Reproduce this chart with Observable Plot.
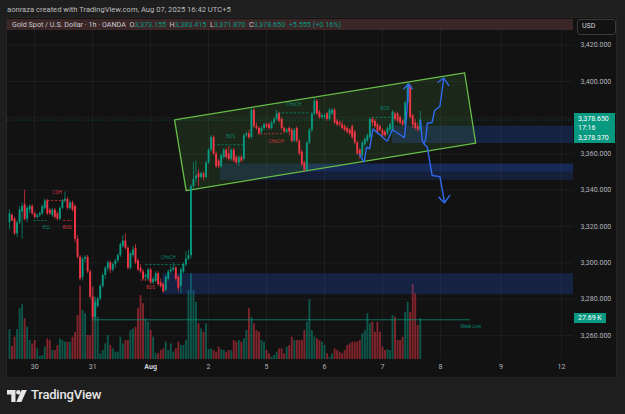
<!DOCTYPE html>
<html><head><meta charset="utf-8">
<script src="https://cdn.jsdelivr.net/npm/d3@7"></script>
<script src="https://cdn.jsdelivr.net/npm/@observablehq/plot@0.6"></script>
<style>
html,body{margin:0;padding:0;background:#1e1e1e;}
#root{position:relative;width:625px;height:414px;overflow:hidden;background:#1e1e1e;font-family:Roboto,"Open Sans",sans-serif;}
.abs{position:absolute;}
#root svg.layer{position:absolute;left:0;top:0;}
.g{color:#089981;}
</style></head><body>
<div id="root">
  <div class="abs" style="left:7px;top:5px;font-size:7.6px;color:#bdbdbd;white-space:nowrap;">aonraza created with TradingView.com, Aug 07, 2025 16:42 UTC+5</div>
  <div class="abs" style="left:6px;top:17px;width:611px;height:361px;background:#121212;border:1px solid #262626;box-sizing:border-box;"></div>
  <div class="abs" style="left:7px;top:19px;width:566px;height:11px;background:#3a2527;"></div>
  <div class="abs" style="left:577px;top:19px;width:39px;height:16px;border:1px solid #3a3a3a;border-radius:3px;box-sizing:border-box;"></div>
  <div class="abs" style="left:582px;top:22px;font-size:7px;color:#d1d4dc;">USD</div>
  <div id="layers"></div>
  <div class="abs" style="left:12px;top:20px;font-size:7.2px;line-height:10px;color:#c8cad0;white-space:nowrap;">Gold Spot / U.S. Dollar · 1h · OANDA&nbsp; O<span class="g">3,373.155</span>&nbsp; H<span class="g">3,383.415</span>&nbsp; L<span class="g">3,371.870</span>&nbsp; C<span class="g">3,378.650</span>&nbsp; <span class="g">+5.555 (+0.16%)</span></div>
  <div class="abs" style="left:574px;top:113px;width:41px;height:30px;background:#089981;"></div>
  <div class="abs" style="left:578px;top:115px;font-size:7px;line-height:9.4px;color:#fff;">3,378.650<br>17:16<br>3,378.370</div>
  <div class="abs" style="left:574px;top:313px;width:32px;height:10px;background:#089981;"></div>
  <div class="abs" style="left:578px;top:314px;font-size:7px;line-height:8px;color:#fff;">27.69 K</div>
  <svg class="abs" style="left:7px;top:390px;" width="20" height="12" viewBox="0 0 20 12"><path d="M0 0h8.5v12h-4.2v-7.6H0z" fill="#e6e6e6"/><circle cx="11.3" cy="2.3" r="2.2" fill="#e6e6e6"/><path d="M14.6 0h5.2l-5.4 12H9.3z" fill="#e6e6e6"/></svg>
  <div class="abs" style="left:31px;top:387px;font-size:13px;font-weight:500;color:#e6e6e6;letter-spacing:-0.2px;">TradingView</div>
</div>
<script>
// ---- data (bar index = hourly candle, price in USD) ----
const ohlc = [
[3322,3329,3318,3327],[3326,3327,3323,3323],[3324,3325,3315,3316],[3316,3323,3314,3322],[3322,3331,3321,3329],
[3328,3333,3313,3331],[3332,3340,3323,3324],[3324,3331,3322,3330],[3329,3332,3327,3331],[3331,3332,3326,3327],
[3327,3328,3324,3325],[3325,3327,3324,3326],[3326,3328,3325,3327],[3327,3332,3326,3331],[3330,3335,3329,3334],
[3334,3335,3326,3327],[3329,3330,3326,3327],[3326,3330,3325,3329],[3329,3330,3324,3325],[3327,3328,3323,3324],
[3324,3331,3323,3330],[3330,3335,3329,3334],[3334,3339,3333,3335],[3335,3336,3329,3330],[3330,3334,3329,3333],
[3333,3334,3328,3329],[3331,3332,3311,3313],[3313,3315,3302,3303],[3303,3304,3290,3291],[3292,3303,3290,3302],
[3302,3304,3300,3303],[3303,3304,3294,3295],[3295,3296,3280,3281],[3281,3282,3268.6,3270],[3270,3279,3269,3278],
[3276,3281,3275,3280],[3280,3288,3279,3287],[3287,3294,3286,3293],[3293,3298,3291,3297],[3297,3301,3295,3300],
[3300,3301,3294,3296],[3296,3300,3295,3299],[3299,3302,3297,3301],[3301,3305,3300,3304],[3304,3311,3303,3310],
[3309,3315,3308,3312],[3312,3316,3307,3308],[3308,3309,3296,3297],[3297,3306,3296,3305],[3304,3309,3303,3307],
[3308,3310,3299,3300],[3301,3302,3295,3296],[3297,3299,3294,3295],[3295,3296,3290,3291],[3292,3294,3290,3293],
[3291,3297,3290,3296],[3296,3297,3288,3289],[3289,3292,3288,3291],[3290,3295,3289,3294],[3294,3295,3287,3288],
[3289,3291,3286,3287],[3288,3289,3283.5,3284],[3285,3293,3284,3292],[3291,3296,3290,3295],[3295,3298,3294,3296],
[3296,3300,3295,3297],[3297,3298,3290,3291],[3292,3293,3284,3286],[3287,3297,3283,3296],[3295,3300,3294,3299],
[3299,3306,3298,3302],[3302,3307,3301,3304],[3304,3343,3302,3342],[3342,3355,3340,3346],[3346,3356,3344,3348],
[3349,3351,3342,3347],[3347,3350,3346,3349],[3349,3350,3345,3347],[3347,3356,3346,3355],[3355,3363,3354,3362],
[3362,3370,3361,3369],[3369,3370,3359,3360],[3360,3361,3352,3353],[3356,3357,3352,3353],[3353,3360,3352,3359],
[3358,3363,3357,3362],[3362,3363,3357,3358],[3360,3364,3356,3357],[3357,3363,3356,3362],[3362,3363,3355,3356],
[3358,3359,3354,3355],[3355,3359,3353,3358],[3358,3359,3355,3356],[3357,3371,3356,3370],[3370,3372,3369,3371],
[3371,3373,3368,3369],[3369,3385,3368,3384],[3384,3385,3374,3375],[3375,3377,3373,3374],[3374,3375,3370,3371],
[3372,3375,3371,3374],[3374,3377,3373,3376],[3376,3377,3374,3375],[3376,3377,3373,3374],[3374,3378,3373,3377],
[3377,3380,3376,3379],[3379,3384,3378,3382],[3382,3383,3377,3378],[3379,3380,3373,3374],[3374,3375,3371,3372],
[3372,3374,3371,3373],[3374,3375,3370,3372],[3373,3374,3366,3367],[3367,3374,3366,3373],[3374,3375,3366,3367],
[3367,3368,3359,3360],[3361,3362,3353,3354],[3355,3356,3350,3351],[3351,3367,3350,3366],[3366,3374,3365,3373],
[3373,3383,3372,3382],[3382,3390.5,3381,3389],[3389,3390,3381,3382],[3383,3384,3379,3380],[3380,3382,3379,3381],
[3380,3382,3379,3381],[3382,3383,3378,3379],[3379,3385,3378,3384],[3382,3385,3381,3384],[3384,3385,3376,3377],
[3378,3379,3375,3376],[3377,3378,3375,3376],[3376,3378,3373,3374],[3375,3376,3372,3373],[3374,3375,3371,3372],
[3373,3374,3370,3371],[3375,3376,3368,3369],[3372,3373,3365,3366],[3366,3367,3359,3360],[3362,3363,3357,3359],
[3359,3367,3358,3366],[3365,3369,3364,3368],[3367,3371,3366,3370],[3369,3380,3368,3379],[3379,3380,3375,3377],
[3378,3379,3374,3375],[3376,3377,3371,3372],[3375,3376,3372,3373],[3373,3374,3369,3370],[3372,3373,3369,3370],
[3371,3375,3370,3374],[3373,3377,3372,3376],[3373,3384,3372,3383],[3382,3383,3378,3379],[3382,3383,3377,3378],
[3380,3381,3376,3377],[3378,3379,3375,3376],[3376,3389,3375,3388],[3388,3398.6,3387,3397],[3397,3398,3379,3380],
[3381,3382,3374,3376],[3377,3379,3373,3374],[3375,3377,3372,3373.2],[3373.155,3383.415,3371.87,3378.65]
];
const volumeK = [
20.2,8.8,15.2,20.2,34.5,37.2,27.7,22.0,12.9,10.6,12.9,7.2,2.0,2.7,8.4,14.0,12.9,6.1,6.1,9.5,
14.0,12.9,11.8,11.8,11.8,15.2,18.6,29.9,49.7,33.3,31.1,16.3,16.3,49.2,42.4,28.8,3.8,6.1,10.6,16.3,
9.5,7.2,5.0,5.0,15.2,10.6,12.9,12.9,19.7,20.8,22.0,34.5,43.5,37.9,27.7,25.4,19.7,15.2,4.3,3.8,
6.1,7.2,11.8,6.1,10.6,5.0,7.2,11.8,9.5,9.5,12.9,46.9,58.3,46.9,39.0,24.3,20.8,18.6,24.3,6.6,
7.2,6.1,5.0,8.4,6.6,6.1,5.0,6.1,6.1,12.9,11.8,12.9,11.8,14.0,19.7,34.5,28.8,24.3,19.7,18.6,
12.9,11.8,6.1,3.8,1.5,2.7,5.0,7.2,7.2,3.8,8.4,9.5,15.2,12.9,12.9,12.9,12.9,19.7,25.4,40.6,
19.7,15.2,14.0,12.9,11.8,9.5,3.8,1.5,3.8,7.2,6.1,5.0,3.8,6.1,9.5,10.6,11.8,11.8,11.8,12.9,
17.5,19.7,31.1,24.3,25.4,18.6,25.4,18.6,8.4,6.1,6.6,6.1,29.9,28.8,12.9,12.9,15.2,32.2,39.0,32.2,
51.0,44.7,23.2,27.69
];
const dayTicks = [10, 33, 56, 79, 102, 125, 148, 171, 195, 219];
const dayLabels = ["30", "31", "Aug", "2", "5", "6", "7", "8", "9", "12"];
const priceTicks = [3260, 3280, 3300, 3320, 3340, 3360, 3380, 3400, 3420];
const hiddenPriceTick = 3380; // covered by the last-price label in the original
const lastPrice = 3378.65;

// channel corners (bar index, price)
const channelI = [65.5, 180.6, 185.0, 70.1];
const channelP = [3378.8, 3404.7, 3365.9, 3339.8];
// demand / supply zones
const zoneStart = [60.8, 83.7, 116.7, 152];
const zoneTop = [3294, 3354.4, 3354.4, 3375.3];
const zoneBottom = [3282.4, 3345.3, 3350, 3365.7];
const zoneOpacity = [0.2, 0.17, 0.15, 0.2];
// market-structure lines and labels
const structStart = [15, 9.6, 21.5, 54, 52, 81, 99.6, 106.7, 144];
const structEnd = [23, 15, 25, 70.5, 60, 93, 108.7, 119.4, 153.2];
const structPrice = [3334.3, 3323.3, 3323.3, 3299, 3290.5, 3365, 3371.1, 3382.6, 3380.2];
const structSide = ["bear", "bull", "bear", "bull", "bear", "bull", "bear", "bull", "bull"];
const labelText = ["CDH", "EQL", "BOS", "CHoCH", "BOS", "BOS", "CHoCH", "CHoCH", "BOS", "Weak Low"];
const labelI = [18.9, 14.7, 22.9, 63, 56, 87.7, 105.8, 112.8, 149, 183];
const labelP = [3338.6, 3319.6, 3319.6, 3303.1, 3286.2, 3369.6, 3367, 3387.2, 3384.8, 3264.7];
const labelSide = ["bear", "bull", "bear", "bull", "bear", "bull", "bear", "bull", "bull", "bull"];
const weakLow = {from: 32.8, to: 183, price: 3268.6};
// hand-drawn scenario arrows (bar index, price)
const arrowUp1 = [[138.9,3359.7],[140.7,3355.4],[141.7,3363.7],[142.9,3362.8],[144.2,3373.8],[149.9,3367.0],[151.9,3373.3],[152.5,3372.9],[156.7,3368.9],[157.5,3379.9],[158.4,3398.2]];
const arrowUp1Head = [[156.5,3395.9],[158.4,3398.6],[159.8,3395.9]];
const arrowUp2 = [[163.1,3378.4],[163.8,3367.4],[164.4,3365.6],[165.1,3367.8],[165.8,3376.9],[167.7,3377.3],[168.7,3383.9],[170.8,3386.1],[172.3,3401.4]];
const arrowUp2Head = [[170.0,3399.5],[172.3,3401.8],[174.3,3397.7]];
const arrowDown = [[164.4,3365.6],[165.8,3363.7],[167.7,3348.1],[170.8,3347.5],[172.6,3333.4]];
const arrowDownHead = [[170.4,3336.1],[172.6,3333.0],[174.7,3337.1]];

// ---- build tables ----
const UP = "#089981", DOWN = "#f23645";
const candles = ohlc.map(([o, h, l, c], i) => ({i, o, h, l, c, v: volumeK[i], col: c >= o ? UP : DOWN}));
const channel = channelI.map((x, k) => ({x, y: channelP[k]}));
const xEnd = 223.81;
const zones = zoneStart.map((x1, k) => ({x1, x2: xEnd, y1: zoneBottom[k], y2: zoneTop[k], op: zoneOpacity[k]}));
const structs = structStart.map((x1, k) => ({x1, x2: structEnd[k], y: structPrice[k], col: structSide[k] === "bull" ? UP : DOWN}));
const labels = labelText.map((t, k) => ({t, x: labelI[k], y: labelP[k], col: labelSide[k] === "bull" ? UP : DOWN}));
const arrows = [];
[["u1", arrowUp1], ["u1h", arrowUp1Head], ["u2", arrowUp2], ["u2h", arrowUp2Head], ["d", arrowDown], ["dh", arrowDownHead]]
  .forEach(([id, pts]) => pts.forEach(([x, y]) => arrows.push({id, x, y})));

const common = {width: 625, height: 414, marginLeft: 7, marginRight: 52, marginTop: 29, marginBottom: 55};
const xDom = [-0.794, xEnd];

const volPlot = Plot.plot({
  ...common,
  x: {domain: xDom, axis: null},
  y: {domain: [0, 224.5], axis: null},
  style: {background: "transparent"},
  marks: [
    Plot.ruleX(candles, {x: "i", y1: 0, y2: "v", stroke: "col", strokeWidth: 1.9, strokeOpacity: 0.5})
  ]
});

const pricePlot = Plot.plot({
  ...common,
  x: {domain: xDom, axis: null},
  y: {domain: [3246.72, 3428.54], axis: null},
  style: {background: "transparent", fontFamily: "Roboto, sans-serif", fontSize: "7px", color: "#b2b5be", overflow: "visible"},
  marks: [
    Plot.gridX(dayTicks, {stroke: "#ffffff", strokeOpacity: 0.05}),
    Plot.gridY(priceTicks, {stroke: "#ffffff", strokeOpacity: 0.05}),
    Plot.rect(zones, {x1: "x1", x2: "x2", y1: "y1", y2: "y2", fill: "#2962ff", fillOpacity: "op"}),
    Plot.line(channel, {x: "x", y: "y", curve: "linear-closed", fill: "#5cb848", fillOpacity: 0.13, stroke: "#68bd48", strokeWidth: 1.3}),
    Plot.ruleY([weakLow], {y: "price", x1: "from", x2: "to", stroke: UP, strokeOpacity: 0.8, strokeWidth: 0.9}),
    Plot.ruleY(structs, {y: "y", x1: "x1", x2: "x2", stroke: "col", strokeDasharray: "2.5,1.5", strokeWidth: 0.8, strokeOpacity: 0.8}),
    Plot.ruleY([lastPrice], {stroke: UP, strokeDasharray: "1,2", strokeWidth: 0.8, strokeOpacity: 0.7}),
    Plot.ruleX(candles, {x: "i", y1: "l", y2: "h", stroke: "col", strokeWidth: 0.7}),
    Plot.ruleX(candles, {x: "i", y1: "o", y2: "c", stroke: "col", strokeWidth: 1.9}),
    Plot.text(labels, {x: "x", y: "y", text: "t", fill: "col", fontSize: 4.6, fillOpacity: 0.85}),
    Plot.line(arrows, {x: "x", y: "y", z: "id", stroke: "#2f6bf0", strokeWidth: 1.4, strokeLinejoin: "miter"}),
    Plot.axisY(priceTicks.filter((d) => d !== hiddenPriceTick), {anchor: "right", tickSize: 0, tickPadding: 7, tickFormat: d3.format(",.3f"), textAnchor: "start"}),
    Plot.axisX(dayTicks, {anchor: "bottom", tickSize: 0, tickPadding: 5, tickFormat: (d) => dayLabels[dayTicks.indexOf(d)] === "Aug" ? "" : dayLabels[dayTicks.indexOf(d)]}),
    Plot.axisX([56], {anchor: "bottom", tickSize: 0, tickPadding: 5, tickFormat: () => "Aug", fontWeight: "bold", fill: "#d1d4dc"})
  ]
});

volPlot.classList.add("layer");
pricePlot.classList.add("layer");
const layers = document.getElementById("layers");
layers.appendChild(volPlot);
layers.appendChild(pricePlot);
</script>
</body></html>
